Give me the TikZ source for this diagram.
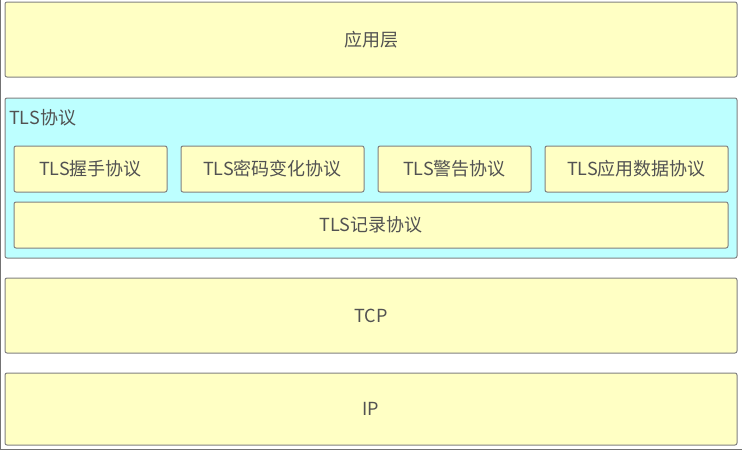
\documentclass[tikz,border=0pt]{standalone}
\usepackage{fontspec}
\setmainfont{Noto Sans CJK SC}
\begin{document}
\begin{tikzpicture}[x=1pt,y=-1pt,
  box/.style={draw=black!50,fill=yellowbox,rounded corners=2pt,line width=1pt,text=black!68,font=\fontsize{18}{20}\selectfont},
  outer/.style={draw=black!50,fill=cyanbox,rounded corners=2pt,line width=1pt}]
\definecolor{yellowbox}{HTML}{FFFFC4}
\definecolor{cyanbox}{HTML}{BDFFFF}
\useasboundingbox[fill=white] (0,0) rectangle (742,450);
\draw[black!55,line width=1.5pt] (0.7,0) -- (0.7,449.3) -- (742,449.3);
\draw[box] (5,2) rectangle node (app) {应用层} (737,77);
\draw[outer] (5,98) rectangle (737,258);
\node[anchor=west,text=black!68,font=\fontsize{18}{20}\selectfont,inner sep=0pt] (tls) at (9,118) {TLS协议};
\draw[box] (14,146) rectangle node (hs) {TLS握手协议} (167,192);
\draw[box] (181,146) rectangle node (ccs) {TLS密码变化协议} (364,192);
\draw[box] (378,146) rectangle node (al) {TLS警告协议} (531,192);
\draw[box] (545,146) rectangle node (ad) {TLS应用数据协议} (728,192);
\draw[box] (14,202) rectangle node (rec) {TLS记录协议} (728,248);
\draw[box] (5,278) rectangle node (tcp) {TCP} (737,353);
\draw[box] (5,373) rectangle node (ip) {IP} (737,445);
\end{tikzpicture}
\end{document}
